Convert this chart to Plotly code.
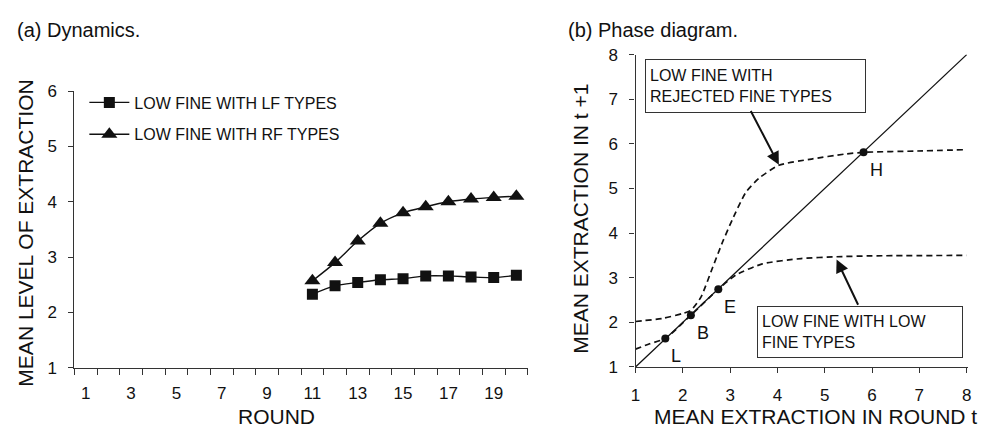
import plotly.graph_objects as go

# ---------------- data ----------------
rounds = list(range(11, 21))
lf_types = [2.33, 2.48, 2.54, 2.59, 2.61, 2.66, 2.66, 2.64, 2.63, 2.67]
rf_types = [2.57, 2.90, 3.29, 3.61, 3.80, 3.91, 4.00, 4.05, 4.08, 4.10]
round_ticks = list(range(1, 20, 2))

diag_x = [1, 8]
diag_y = [1, 8]
low_x = [1.00, 1.30, 1.63, 2.17, 2.75, 3.12, 3.68, 4.50, 5.25, 6.00, 8.00]
low_y = [1.40, 1.52, 1.64, 2.16, 2.74, 3.06, 3.31, 3.43, 3.47, 3.49, 3.50]
rej_x = [1.00, 1.58, 2.00, 2.17, 2.38, 2.63, 2.84, 3.05, 3.33, 3.61, 4.03, 4.72, 5.42, 5.82, 6.96, 8.00]
rej_y = [2.02, 2.09, 2.20, 2.27, 2.56, 3.23, 3.80, 4.31, 4.91, 5.23, 5.52, 5.66, 5.77, 5.81, 5.84, 5.87]
pts_x = [1.63, 2.17, 2.75, 5.82]
pts_y = [1.64, 2.16, 2.74, 5.81]
pts_lab = ["L", "B", "E", "H"]

FONT = "Liberation Sans, Arial, sans-serif"
INK = "#111111"
AX = "#333333"
W, H = 981, 436

fig = go.Figure()

fig.add_trace(go.Scatter(
    x=rounds, y=lf_types, mode="lines+markers", name="LOW FINE WITH LF TYPES",
    line=dict(color=INK, width=1.4, shape="spline", smoothing=0.8),
    marker=dict(symbol="square", size=11, color=INK),
    legendgroup="a", xaxis="x", yaxis="y"))
fig.add_trace(go.Scatter(
    x=rounds, y=rf_types, mode="lines+markers", name="LOW FINE WITH RF TYPES",
    line=dict(color=INK, width=1.4, shape="spline", smoothing=0.8),
    marker=dict(symbol="triangle-up", size=14, color=INK),
    legendgroup="b", xaxis="x", yaxis="y"))

fig.add_trace(go.Scatter(
    x=diag_x, y=diag_y, mode="lines", showlegend=False,
    line=dict(color=INK, width=1.3), xaxis="x2", yaxis="y2"))
fig.add_trace(go.Scatter(
    x=low_x, y=low_y, mode="lines", showlegend=False,
    line=dict(color=INK, width=1.7, dash="6px,4px", shape="spline", smoothing=0.6),
    xaxis="x2", yaxis="y2"))
fig.add_trace(go.Scatter(
    x=rej_x, y=rej_y, mode="lines", showlegend=False,
    line=dict(color=INK, width=1.7, dash="6px,4px", shape="spline", smoothing=0.6),
    xaxis="x2", yaxis="y2"))
fig.add_trace(go.Scatter(
    x=pts_x, y=pts_y, mode="markers", showlegend=False,
    marker=dict(size=8, color=INK), xaxis="x2", yaxis="y2"))

for px_, py_, lab in zip(pts_x, pts_y, pts_lab):
    fig.add_annotation(x=px_, y=py_, xref="x2", yref="y2", text=lab, showarrow=False,
                       xanchor="left", yanchor="top", xshift=4, yshift=-6,
                       font=dict(family=FONT, size=18, color=INK))

# boxes
fig.add_annotation(x=1.21, y=7.91, xref="x2", yref="y2", showarrow=False,
                   text="LOW FINE WITH<br>REJECTED FINE TYPES", align="left",
                   xanchor="left", yanchor="top", width=211, height=44,
                   bordercolor=AX, borderwidth=1, borderpad=4, bgcolor="white",
                   font=dict(family=FONT, size=16, color=INK))
fig.add_annotation(x=3.56, y=2.36, xref="x2", yref="y2", showarrow=False,
                   text="LOW FINE WITH LOW<br>FINE TYPES", align="left",
                   xanchor="left", yanchor="top", width=196, height=42,
                   bordercolor=AX, borderwidth=1, borderpad=4, bgcolor="white",
                   font=dict(family=FONT, size=16, color=INK))
# arrows
fig.add_annotation(x=4.03, y=5.53, ax=3.42, ay=6.77, xref="x2", yref="y2",
                   axref="x2", ayref="y2", text="", showarrow=True,
                   arrowhead=2, arrowsize=1.3, arrowwidth=2, arrowcolor=INK, standoff=0)
fig.add_annotation(x=5.25, y=3.41, ax=5.72, ay=2.36, xref="x2", yref="y2",
                   axref="x2", ayref="y2", text="", showarrow=True,
                   arrowhead=2, arrowsize=1.3, arrowwidth=2, arrowcolor=INK, standoff=0)

# titles
def ptxt(text, x, y, size, xanchor="left", angle=0):
    fig.add_annotation(x=x / W, y=1 - y / H, xref="paper", yref="paper", text=text,
                       showarrow=False, xanchor=xanchor, yanchor="middle", textangle=angle,
                       font=dict(family=FONT, size=size, color=INK))

ptxt("(a) Dynamics.", 10, 22, 20)
ptxt("(b) Phase diagram.", 566, 22, 20)
ptxt("ROUND", 273.5, 426, 21, "center")
ptxt("MEAN EXTRACTION IN ROUND t", 817, 426, 21, "center")
ptxt("MEAN LEVEL OF EXTRACTION", 21, 234, 21, "center", -90)
ptxt("MEAN EXTRACTION IN t +1", 580, 219, 21, "center", -90)

axis_common = dict(showline=True, linecolor=AX, linewidth=1.2, showgrid=False, zeroline=False,
                   tickfont=dict(family=FONT, size=17, color=INK), tickcolor=AX)

fig.update_layout(
    width=W, height=H, margin=dict(l=0, r=0, t=0, b=0),
    paper_bgcolor="white", plot_bgcolor="white",
    showlegend=True,
    legend=dict(x=80 / W, y=1 - 80 / H, xanchor="left", yanchor="top",
                bgcolor="rgba(0,0,0,0)", itemwidth=40, tracegroupgap=8,
                font=dict(family=FONT, size=16, color=INK)),
    xaxis=dict(domain=[70 / W, 527 / W], range=[0.5, 20.5], tickvals=round_ticks,
               ticks="", ticklabelstandoff=10,
               minor=dict(tickvals=[r - 0.5 for r in range(1, 22)], ticks="outside",
                          ticklen=6, tickcolor=AX),
               anchor="y", **axis_common),
    yaxis=dict(domain=[61 / H, 350 / H], range=[1, 6], dtick=1, ticks="outside", ticklen=5,
               ticklabelstandoff=8, anchor="x", **axis_common),
    xaxis2=dict(domain=[635.7 / W, 971 / W], range=[1, 8.03], dtick=1, ticks="outside",
                ticklen=5, ticklabelstandoff=8, anchor="y2", **axis_common),
    yaxis2=dict(domain=[(H - 374.3) / H, (H - 47.7) / H], range=[1, 8], dtick=1,
                ticks="outside", ticklen=5, ticklabelstandoff=8, anchor="x2", **axis_common),
)

fig.write_html("out.html")
